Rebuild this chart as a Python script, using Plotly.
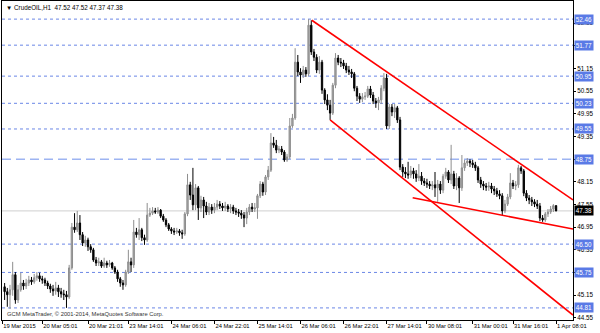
import plotly.graph_objects as go

# ---------------- data (CrudeOIL, H1) ----------------
open_ = [
    45.37, 45.24, 45.16, 45.29, 45.69, 45.02, 45.29, 45.47, 45.39, 45.47,
    45.55, 45.50, 45.61, 45.66, 45.58, 45.55, 45.47, 45.39, 45.31, 45.26,
    45.34, 45.24, 45.18, 45.16, 45.10, 45.87, 46.95, 46.88, 47.06, 46.75,
    46.53, 46.61, 46.43, 46.35, 46.08, 46.00, 46.03, 45.92, 46.00, 45.95,
    46.00, 45.87, 45.76, 45.58, 45.47, 45.42, 45.76, 46.03, 45.95, 46.82,
    46.75, 46.88, 46.67, 46.61, 47.27, 47.32, 47.38, 47.35, 47.40, 47.24,
    47.14, 47.01, 46.90, 46.85, 46.82, 46.85, 46.80, 46.77, 47.30, 48.07,
    47.80, 47.54, 47.99, 47.46, 47.67, 47.51, 47.35, 47.48, 47.40, 47.48,
    47.56, 47.51, 47.46, 47.51, 47.43, 47.48, 47.38, 47.35, 47.32, 47.27,
    47.19, 47.35, 47.48, 47.43, 47.46, 47.78, 48.09, 47.88, 48.28, 48.46,
    49.18, 49.12, 48.99, 49.02, 48.94, 48.73, 48.81, 49.63, 49.84, 51.32,
    51.06, 50.98, 51.11, 51.01, 52.30, 51.59, 51.45, 51.11, 51.32, 50.58,
    50.32, 50.18, 49.97, 50.71, 51.43, 51.32, 51.30, 51.22, 51.11, 51.06,
    51.01, 50.63, 50.42, 50.34, 50.40, 50.42, 50.61, 50.45, 50.29, 50.24,
    50.32, 50.63, 50.90, 49.63, 50.13, 50.00, 50.11, 49.79, 48.54, 48.41,
    48.36, 48.33, 48.44, 48.36, 48.25, 48.30, 48.17, 48.12, 48.09, 48.04,
    48.07, 47.99, 48.09, 47.93, 48.30, 48.41, 48.20, 48.36, 48.04, 48.25,
    47.99, 48.52, 48.65, 48.70, 48.65, 48.60, 48.52, 48.20, 48.09, 48.04,
    48.01, 48.04, 47.96, 47.91, 47.83, 47.78, 47.38, 47.56, 47.75, 48.12,
    48.04, 48.07, 48.52, 48.44, 47.85, 47.72, 47.67, 47.62, 47.56, 47.51,
    47.19, 47.14, 47.30, 47.35, 47.43, 47.52,
]
high = [
    45.47, 45.34, 45.42, 46.03, 45.76, 45.42, 45.74, 45.55, 45.58, 45.66,
    45.63, 45.71, 45.76, 45.74, 45.66, 45.61, 45.53, 45.45, 45.42, 45.50,
    45.42, 45.34, 45.29, 45.26, 45.95, 47.06, 47.32, 47.38, 47.27, 46.82,
    46.72, 46.67, 46.50, 46.40, 46.16, 46.14, 46.08, 46.14, 46.06, 46.08,
    46.03, 45.92, 45.82, 45.63, 45.55, 45.82, 46.35, 46.14, 47.14, 46.93,
    47.19, 46.93, 46.75, 47.59, 47.46, 47.48, 47.46, 47.48, 47.43, 47.30,
    47.19, 47.06, 46.95, 46.93, 46.93, 46.90, 46.88, 47.35, 48.36, 48.15,
    48.52, 48.09, 48.04, 47.78, 47.75, 47.62, 47.59, 47.56, 47.59, 47.67,
    47.64, 47.59, 47.62, 47.56, 47.56, 47.54, 47.46, 47.43, 47.40, 47.35,
    47.46, 47.56, 47.59, 47.59, 47.83, 48.17, 48.15, 48.33, 48.57, 49.44,
    49.34, 49.26, 49.10, 49.10, 48.99, 48.89, 49.84, 49.95, 51.69, 51.51,
    51.16, 51.22, 51.19, 52.46, 52.43, 51.67, 51.53, 51.48, 51.38, 50.63,
    50.47, 50.32, 50.77, 51.56, 51.51, 51.43, 51.38, 51.30, 51.22, 51.14,
    51.06, 50.69, 50.50, 50.50, 50.53, 50.69, 50.69, 50.53, 50.37, 50.40,
    50.71, 51.03, 51.01, 50.21, 50.21, 50.21, 50.16, 49.87, 48.62, 48.54,
    48.68, 48.57, 48.52, 48.46, 48.62, 48.41, 48.25, 48.23, 48.17, 48.17,
    48.41, 48.20, 48.17, 48.36, 48.52, 48.46, 49.13, 48.44, 48.38, 48.30,
    48.86, 48.73, 48.78, 48.75, 48.73, 48.68, 48.57, 48.28, 48.17, 48.12,
    48.15, 48.12, 48.04, 47.99, 47.93, 47.85, 47.67, 47.83, 48.38, 48.20,
    48.17, 48.60, 48.57, 48.49, 47.93, 47.80, 47.75, 47.69, 47.67, 47.59,
    47.27, 47.35, 47.43, 47.51, 47.56, 47.52,
]
low = [
    45.02, 44.84, 44.78, 45.13, 44.92, 44.94, 45.24, 45.29, 45.31, 45.39,
    45.42, 45.45, 45.53, 45.50, 45.45, 45.39, 45.31, 45.21, 45.13, 45.16,
    45.10, 45.08, 45.02, 44.81, 45.05, 45.82, 46.80, 46.82, 46.61, 46.45,
    46.43, 46.32, 46.27, 46.03, 45.92, 45.92, 45.87, 45.87, 45.87, 45.90,
    45.82, 45.71, 45.50, 45.37, 45.29, 45.37, 45.71, 45.76, 45.87, 46.67,
    46.61, 46.58, 46.48, 46.56, 47.22, 47.27, 47.30, 47.30, 47.19, 47.09,
    46.95, 46.85, 46.77, 46.74, 46.77, 46.72, 46.64, 46.72, 47.24, 47.67,
    47.40, 47.40, 47.14, 47.35, 47.19, 47.27, 47.27, 47.30, 47.32, 47.40,
    47.43, 47.38, 47.38, 47.35, 47.32, 47.30, 47.27, 47.22, 47.17, 46.95,
    47.03, 47.27, 47.35, 47.35, 47.17, 47.72, 47.78, 47.80, 48.20, 48.41,
    49.05, 48.91, 48.91, 48.86, 48.68, 48.68, 48.75, 49.58, 49.79, 50.95,
    50.77, 50.90, 50.93, 50.95, 51.51, 51.35, 51.03, 51.01, 50.48, 50.21,
    50.05, 49.79, 49.92, 50.63, 51.24, 51.19, 51.14, 51.03, 50.98, 50.90,
    50.55, 50.29, 50.24, 50.26, 50.32, 50.37, 50.37, 50.21, 50.11, 50.05,
    50.21, 50.55, 49.55, 49.55, 49.89, 49.84, 49.71, 48.46, 48.28, 48.25,
    48.23, 48.25, 48.23, 48.15, 48.17, 48.07, 48.04, 47.99, 47.96, 47.93,
    47.75, 47.62, 47.83, 47.85, 48.23, 48.12, 48.09, 47.96, 47.93, 47.59,
    47.91, 48.44, 48.57, 48.54, 48.52, 48.44, 48.12, 47.99, 47.93, 47.91,
    47.91, 47.85, 47.80, 47.75, 47.69, 47.27, 47.32, 47.51, 47.69, 47.96,
    47.93, 47.99, 48.36, 47.77, 47.64, 47.56, 47.51, 47.48, 47.43, 47.11,
    47.09, 47.09, 47.22, 47.30, 47.35, 47.37,
]
close = [
    45.24, 45.16, 45.29, 45.69, 45.02, 45.29, 45.47, 45.39, 45.47, 45.55,
    45.50, 45.61, 45.66, 45.58, 45.55, 45.47, 45.39, 45.31, 45.26, 45.34,
    45.24, 45.18, 45.16, 45.10, 45.87, 46.95, 46.88, 47.06, 46.75, 46.53,
    46.61, 46.43, 46.35, 46.08, 46.00, 46.03, 45.92, 46.00, 45.95, 46.00,
    45.87, 45.76, 45.58, 45.47, 45.42, 45.76, 46.03, 45.95, 46.82, 46.75,
    46.88, 46.67, 46.61, 47.27, 47.32, 47.38, 47.35, 47.40, 47.24, 47.14,
    47.01, 46.90, 46.85, 46.82, 46.85, 46.80, 46.77, 47.30, 48.07, 47.80,
    47.54, 47.99, 47.46, 47.67, 47.51, 47.35, 47.48, 47.40, 47.48, 47.56,
    47.51, 47.46, 47.51, 47.43, 47.48, 47.38, 47.35, 47.32, 47.27, 47.19,
    47.35, 47.48, 47.43, 47.46, 47.78, 48.09, 47.88, 48.28, 48.46, 49.18,
    49.12, 48.99, 49.02, 48.94, 48.73, 48.81, 49.63, 49.84, 51.32, 51.06,
    50.98, 51.11, 51.01, 52.30, 51.59, 51.45, 51.11, 51.32, 50.58, 50.32,
    50.18, 49.97, 50.71, 51.43, 51.32, 51.30, 51.22, 51.11, 51.06, 51.01,
    50.63, 50.42, 50.34, 50.40, 50.42, 50.61, 50.45, 50.29, 50.24, 50.32,
    50.63, 50.90, 49.63, 50.13, 50.00, 50.11, 49.79, 48.54, 48.41, 48.36,
    48.33, 48.44, 48.36, 48.25, 48.30, 48.17, 48.12, 48.09, 48.04, 48.07,
    47.99, 48.09, 47.93, 48.30, 48.41, 48.20, 48.36, 48.04, 48.25, 47.99,
    48.52, 48.65, 48.70, 48.65, 48.60, 48.52, 48.20, 48.09, 48.04, 48.01,
    48.04, 47.96, 47.91, 47.83, 47.78, 47.38, 47.56, 47.75, 48.12, 48.04,
    48.07, 48.52, 48.44, 47.85, 47.72, 47.67, 47.62, 47.56, 47.51, 47.19,
    47.14, 47.30, 47.35, 47.43, 47.52, 47.38,
]

# time axis labels (bar index -> label)
time_tick_bars = [-0.9, 14, 31, 46, 62, 78, 94, 110, 126, 142, 157, 174, 189, 205]
time_tick_labels = ["19 Mar 2015", "20 Mar 05:01", "20 Mar 21:01", "23 Mar 14:01",
                    "24 Mar 06:01", "24 Mar 22:01", "25 Mar 14:01", "26 Mar 06:01",
                    "26 Mar 22:01", "27 Mar 14:01", "30 Mar 08:01", "31 Mar 00:01",
                    "31 Mar 16:01", "1 Apr 08:01"]

price_ticks = [44.55, 45.15, 45.75, 46.35, 46.95, 47.55, 48.15, 48.75,
               49.35, 49.95, 50.55, 51.15, 51.75, 52.35]
# scale labels that sit fully under a level box in the terminal
hidden_price_ticks = [45.75, 48.75, 51.75]

dotted_levels = [52.46, 51.77, 50.95, 50.23, 49.55, 46.50, 45.75, 44.81]
dashed_level = 48.75
bid_level = 47.38

# trend lines: (bar_start, price_start, bar_end, price_end)
trend_lines = [
    (114.2, 52.43, 211.3, 47.67),
    (121.0, 49.79, 211.3, 44.62),
    (151.7, 47.73, 211.3, 46.90),
]

x_range = [-0.97, 211.3]
y_range = [44.49, 52.94]

bars = list(range(len(close)))

fig = go.Figure()

fig.add_trace(go.Candlestick(
    x=bars, open=open_, high=high, low=low, close=close,
    increasing=dict(line=dict(color="#8E8E8E", width=1), fillcolor="#A6A6A6"),
    decreasing=dict(line=dict(color="#000000", width=1), fillcolor="#000000"),
    whiskerwidth=0, hoverinfo="skip", showlegend=False,
))

for (x0, y0, x1, y1) in trend_lines:
    fig.add_trace(go.Scatter(
        x=[x0, x1], y=[y0, y1], mode="lines",
        line=dict(color="#FF0000", width=1.6),
        hoverinfo="skip", showlegend=False,
    ))

shapes = []
annotations = []
label_font = dict(family="Liberation Sans", size=6.3, color="white")
for lv in dotted_levels:
    shapes.append(dict(type="line", xref="paper", x0=0, x1=1, yref="y", y0=lv, y1=lv,
                       line=dict(color="#6A86E6", width=1, dash="dot"), layer="below"))
    annotations.append(dict(xref="paper", x=1, xanchor="left", xshift=1, yref="y", y=lv,
                            text=f"{lv:.2f}", showarrow=False, font=label_font,
                            bgcolor="#5A7AE6", borderpad=0.8))
shapes.append(dict(type="line", xref="paper", x0=0, x1=1, yref="y", y0=dashed_level, y1=dashed_level,
                   line=dict(color="#9DB4F2", width=1.4, dash="9px,5px"), layer="below"))
annotations.append(dict(xref="paper", x=1, xanchor="left", xshift=1, yref="y", y=dashed_level,
                        text=f"{dashed_level:.2f}", showarrow=False, font=label_font,
                        bgcolor="#5A7AE6", borderpad=0.8))
shapes.append(dict(type="line", xref="paper", x0=0, x1=1, yref="y", y0=bid_level, y1=bid_level,
                   line=dict(color="#CFCFCF", width=1), layer="below"))
annotations.append(dict(xref="paper", x=1, xanchor="left", xshift=1, yref="y", y=bid_level,
                        text=f"{bid_level:.2f}", showarrow=False, font=label_font,
                        bgcolor="#000000", borderpad=0.8))

title_text = (f"\u25BC CrudeOIL,H1  {open_[-1]:.2f} {high[-1]:.2f} "
              f"{low[-1]:.2f} {close[-1]:.2f}")
annotations.append(dict(xref="paper", yref="paper", x=0, y=1, xanchor="left", yanchor="top",
                        xshift=2, yshift=-1, text=title_text, showarrow=False,
                        font=dict(family="Liberation Sans", size=6.3, color="black"),
                        bgcolor="white"))
annotations.append(dict(xref="paper", yref="paper", x=0, y=0, xanchor="left", yanchor="bottom",
                        xshift=3, yshift=1,
                        text="GCM MetaTrader, \u00A9 2001-2014, MetaQuotes Software Corp.",
                        showarrow=False,
                        font=dict(family="Liberation Sans", size=5.8, color="#333333")))

fig.update_layout(
    width=600, height=333,
    margin=dict(l=2, r=27, t=1, b=13),
    paper_bgcolor="white", plot_bgcolor="white",
    showlegend=False,
    font=dict(family="Liberation Sans", size=6.3, color="black"),
    shapes=shapes, annotations=annotations,
    xaxis=dict(range=x_range, rangeslider=dict(visible=False), showgrid=False, zeroline=False,
               showline=True, linecolor="black", linewidth=1, mirror=True,
               ticks="outside", ticklen=3, tickcolor="black", tickwidth=1,
               tickvals=time_tick_bars, ticktext=time_tick_labels,
               ticklabelposition="outside right", tickangle=0,
               tickfont=dict(family="Liberation Sans", size=5.8, color="black")),
    yaxis=dict(range=y_range, side="right", showgrid=False, zeroline=False,
               showline=True, linecolor="black", linewidth=1, mirror=True,
               ticks="outside", ticklen=2, tickcolor="black",
               tickvals=price_ticks,
               ticktext=["" if v in hidden_price_ticks else f"{v:.2f}" for v in price_ticks],
               tickfont=dict(family="Liberation Sans", size=6.3, color="black")),
)

fig.write_html("out.html")
